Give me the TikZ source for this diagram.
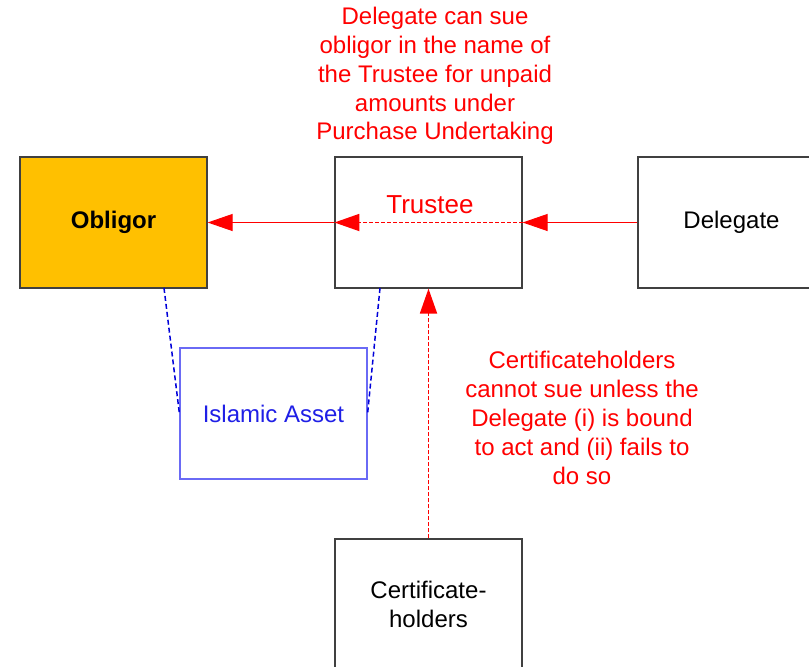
\documentclass[tikz,border=0pt]{standalone}
\usepackage{fontspec}
\setmainfont{Liberation Sans}
\usetikzlibrary{arrows.meta}
\definecolor{obfill}{HTML}{FFC000}
\definecolor{boxline}{HTML}{404040}
\definecolor{redtxt}{HTML}{FF0000}
\definecolor{bluetxt}{HTML}{1F1FE6}
\definecolor{blueline}{HTML}{6A6AF5}
\begin{document}
\begin{tikzpicture}[x=1pt,y=-1pt,
  entity/.style={draw=boxline, line width=1.2pt, minimum width=187pt, minimum height=131pt, inner sep=0pt, align=center, font=\fontsize{24}{29}\selectfont},
  redlabel/.style={text=redtxt, align=center, font=\fontsize{24}{28.8}\selectfont, inner sep=0pt},
  tip/.style={-{Triangle[length=25pt,width=17pt]}},
  solidarrow/.style={tip, draw=redtxt, line width=1pt},
  dashedarrow/.style={tip, draw=redtxt, line width=1.8pt, dash pattern=on 4pt off 2pt},
  bluedash/.style={draw=blue!85!black, line width=1.5pt, dash pattern=on 5pt off 3pt}]
\useasboundingbox (0,0) rectangle (809,667);
\node[entity, fill=obfill, font=\fontsize{24}{29}\selectfont\bfseries] (obligor) at (113.5,222.5) {Obligor};
\node[entity] (trustee) at (428.5,222.5) {};
\node[entity] (delegate) at (731.5,222.5) {Delegate};
\node[entity, draw=blueline, line width=1.2pt, text=bluetxt] (asset) at (273.5,413.5) {Islamic Asset};
\node[entity] (cert) at (428.5,604.5) {Certificate-\\holders};
\node[text=redtxt, font=\fontsize{26}{30}\selectfont, inner sep=0pt] (trlabel) at (430,205) {Trustee};
\node[redlabel] (toptext) at (435,76) {Delegate can sue\\obligor in the name of\\the Trustee for unpaid\\amounts under\\Purchase Undertaking};
\node[redlabel] (righttext) at (582,418) {Certificateholders\\cannot sue unless the\\Delegate (i) is bound\\to act and (ii) fails to\\do so};
\draw[solidarrow] (trustee.west) -- (obligor.east);
\draw[solidarrow] (delegate.west) -- (trustee.east);
\draw[dashedarrow] (trustee.east) -- (trustee.west);
\draw[dashedarrow] (cert.north) -- (trustee.south);
\coordinate (obfoot) at (164,288);
\coordinate (trfoot) at (380,288);
\draw[bluedash] (obfoot) -- (asset.west);
\draw[bluedash] (trfoot) -- (asset.east);
\end{tikzpicture}
\end{document}
